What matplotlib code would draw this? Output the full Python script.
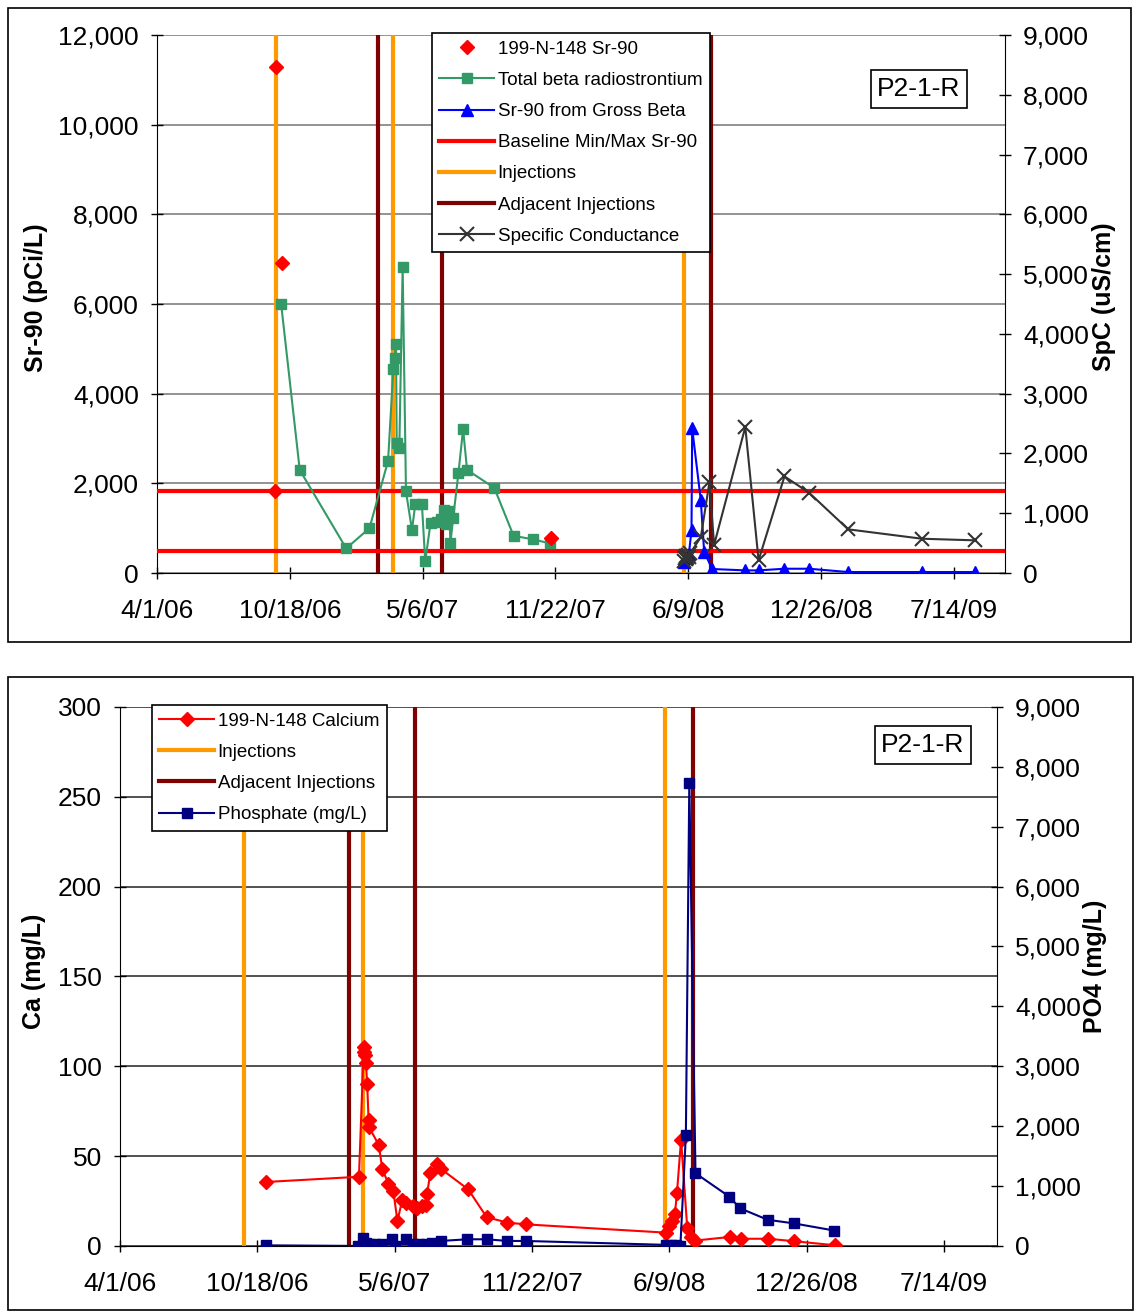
import matplotlib
matplotlib.use('Agg')
import matplotlib.pyplot as plt
from matplotlib.lines import Line2D
from matplotlib.patches import Rectangle
from matplotlib.ticker import FuncFormatter, MultipleLocator
import pandas as pd

plt.rcParams['font.family'] = ['Liberation Sans', 'DejaVu Sans']

# ---- data ----
injections_top = ['2006-09-28', '2007-03-22', '2008-06-03']
adjacent_top = ['2007-02-28', '2007-06-04', '2008-07-14']
injections_bot = ['2006-09-28', '2007-03-21', '2008-06-03']
adjacent_bot = ['2007-03-01', '2007-06-04', '2008-07-14']
baseline_sr90 = [490, 1830]

sr90_dates = ['2006-09-26', '2006-09-28', '2006-10-07', '2007-11-15']
sr90_vals = [1830, 11280, 6910, 790]

beta_dates = ['2006-10-05', '2006-11-02', '2007-01-11', '2007-02-15', '2007-03-15',
              '2007-03-23', '2007-03-25', '2007-03-27', '2007-03-28', '2007-04-01',
              '2007-04-06', '2007-04-11', '2007-04-20', '2007-04-25', '2007-05-05',
              '2007-05-10', '2007-05-18', '2007-05-27', '2007-06-03', '2007-06-07',
              '2007-06-11', '2007-06-15', '2007-06-17', '2007-06-21', '2007-06-29',
              '2007-07-06', '2007-07-12', '2007-08-22', '2007-09-20', '2007-10-20',
              '2007-11-14']
beta_vals = [6000, 2300, 550, 1000, 2500,
             4550, 4800, 5100, 2900, 2800,
             6830, 1820, 960, 1530, 1530,
             260, 1120, 1130, 1200, 1400,
             1100, 1380, 680, 1220, 2230,
             3210, 2300, 1900, 830, 750,
             660]

gross_dates = ['2008-06-03', '2008-06-07', '2008-06-10', '2008-06-14', '2008-06-15',
               '2008-06-28', '2008-07-03', '2008-07-15', '2008-09-03', '2008-09-23',
               '2008-11-01', '2008-12-08', '2009-02-05', '2009-05-27', '2009-08-15']
gross_vals = [250, 330, 420, 950, 3230,
              1620, 480, 90, 59, 59,
              96, 96, 22, 22, 22]

spc_dates = ['2008-06-03', '2008-06-04', '2008-06-05', '2008-06-06', '2008-06-08',
             '2008-06-10', '2008-06-12', '2008-06-28', '2008-07-11', '2008-07-18',
             '2008-09-03', '2008-09-23', '2008-11-01', '2008-12-08', '2009-02-05',
             '2009-05-27', '2009-08-15']
spc_vals = [200, 250, 280, 230, 300,
            270, 330, 600, 1520, 470,
            2443, 212, 1617, 1344, 731,
            574, 547]

ca_dates = ['2006-10-31', '2007-03-15', '2007-03-22', '2007-03-23', '2007-03-24',
            '2007-03-25', '2007-03-27', '2007-03-29', '2007-03-30', '2007-04-13',
            '2007-04-18', '2007-04-27', '2007-05-04', '2007-05-10', '2007-05-17',
            '2007-05-23', '2007-06-01', '2007-06-08', '2007-06-15', '2007-06-20',
            '2007-06-22', '2007-06-27', '2007-07-07', '2007-07-12', '2007-08-21',
            '2007-09-17', '2007-10-17', '2007-11-13', '2008-06-04', '2008-06-09',
            '2008-06-13', '2008-06-17', '2008-06-20', '2008-06-26', '2008-07-05',
            '2008-07-11', '2008-07-17', '2008-09-05', '2008-09-21', '2008-10-31',
            '2008-12-08', '2009-02-05']
ca_vals = [35.6, 38.5, 111, 108, 106,
           102, 90, 70, 66, 56,
           42.6, 34.6, 30.6, 13.9, 25.6,
           24, 22, 21, 22, 23,
           28.7, 40.7, 45.7, 43, 31.5,
           16, 13, 12, 7.4, 11,
           14, 18, 29.3, 59.2, 10,
           5, 3, 5, 4, 4,
           2.6, 0.4]

po4_dates = ['2006-10-31', '2007-03-14', '2007-03-21', '2007-03-25', '2007-03-30',
             '2007-04-08', '2007-04-18', '2007-05-02', '2007-05-07', '2007-05-22',
             '2007-06-01', '2007-06-10', '2007-06-20', '2007-06-30', '2007-07-12',
             '2007-08-20', '2007-09-17', '2007-10-17', '2007-11-13', '2008-06-04',
             '2008-06-11', '2008-06-18', '2008-06-25', '2008-07-03', '2008-07-08',
             '2008-07-17', '2008-09-04', '2008-09-20', '2008-10-30', '2008-12-07',
             '2009-02-04']
po4_vals = [10, 0, 140, 55, 40,
            28, 28, 111, 5, 111,
            28, 28, 39, 55, 83,
            111, 111, 83, 83, 18,
            18, 18, 0, 1854, 7733,
            1214, 825, 628, 437, 377,
            257]

start = pd.Timestamp('2006-04-01')
end = start + pd.Timedelta(days=1277)
xticks = pd.date_range(start, periods=7, freq='200D')
xlabels = [f"{d.month}/{d.day}/{d:%y}" for d in xticks]

ORANGE = '#ff9900'
DARKRED = '#800000'
GREEN = '#339966'
comma = FuncFormatter(lambda v, p: f"{v:,.0f}")

fig = plt.figure(figsize=(11.35, 13.14), dpi=100)
fig.patches.append(Rectangle((0.007, 0.5114), 0.9894, 0.4825, transform=fig.transFigure,
                             fill=False, edgecolor='black', lw=1.2))
fig.patches.append(Rectangle((0.007, 0.003), 0.991, 0.4817, transform=fig.transFigure,
                             fill=False, edgecolor='black', lw=1.2))


def style_axes(ax, axr, gridcolor):
    ax.set_xlim(start, end)
    ax.set_xticks(xticks)
    ax.set_xticklabels(xlabels)
    for a in (ax, axr):
        a.spines['top'].set_visible(False)
        a.tick_params(direction='inout', length=8, width=1, labelsize=19, colors='black')
    ax.spines['right'].set_visible(False)
    axr.spines['left'].set_visible(False)
    axr.spines['bottom'].set_visible(False)
    ax.tick_params(axis='y', pad=9)
    ax.tick_params(axis='x', pad=15)
    axr.tick_params(axis='y', pad=9)
    ax.yaxis.set_major_formatter(comma)
    axr.yaxis.set_major_formatter(comma)
    ax.grid(axis='y', color=gridcolor, lw=1.2)
    ax.set_axisbelow(True)


def make_legend(ax, handles, labels, anchor):
    lg = ax.legend(handles, labels, loc='upper left', bbox_to_anchor=anchor,
                   borderaxespad=0, fontsize=13.5, handlelength=2.9, handletextpad=0.2,
                   labelspacing=0.75, borderpad=0.4, fancybox=False, framealpha=1,
                   edgecolor='black')
    lg.get_frame().set_linewidth(1.2)
    lg.set_zorder(10)
    return lg


# ---- top chart ----
ax1 = fig.add_axes([0.1383, 0.5639, 0.7471, 0.4094])
ax1r = ax1.twinx()
ax1.set_ylim(0, 12000)
ax1.yaxis.set_major_locator(MultipleLocator(2000))
ax1r.set_ylim(0, 9000)
ax1r.yaxis.set_major_locator(MultipleLocator(1000))
style_axes(ax1, ax1r, '#808080')

for d in injections_top:
    ax1.axvline(pd.Timestamp(d), color=ORANGE, lw=3, zorder=2)
for d in adjacent_top:
    ax1.axvline(pd.Timestamp(d), color=DARKRED, lw=3, zorder=2)
for v in baseline_sr90:
    ax1.axhline(v, color='red', lw=3, zorder=3)

ax1.plot(pd.to_datetime(beta_dates), beta_vals, color=GREEN, lw=1.5, marker='s',
         markersize=7, zorder=4)
ax1.plot(pd.to_datetime(gross_dates), gross_vals, color='blue', lw=1.5, marker='^',
         markersize=9, zorder=4)
ax1.plot(pd.to_datetime(sr90_dates), sr90_vals, color='red', ls='none', marker='D',
         markersize=7, zorder=5)
ax1r.plot(pd.to_datetime(spc_dates), spc_vals, color='#333333', lw=1.5, marker='x',
          markersize=10, markeredgewidth=1.5)

ax1.set_ylabel('Sr-90 (pCi/L)', fontsize=18, fontweight='bold')
ax1.yaxis.set_label_coords(-0.128, 0.511)
ax1r.set_ylabel('SpC (uS/cm)', fontsize=18, fontweight='bold')
ax1r.yaxis.set_label_coords(1.1026, 0.513)

h_top = [
    Line2D([], [], color='red', ls='none', marker='D', markersize=7),
    Line2D([], [], color=GREEN, lw=1.5, marker='s', markersize=7),
    Line2D([], [], color='blue', lw=1.5, marker='^', markersize=9),
    Line2D([], [], color='red', lw=3),
    Line2D([], [], color=ORANGE, lw=3),
    Line2D([], [], color=DARKRED, lw=3),
    Line2D([], [], color='#333333', lw=1.5, marker='x', markersize=10, markeredgewidth=1.5),
]
l_top = ['199-N-148 Sr-90', 'Total beta radiostrontium', 'Sr-90 from Gross Beta',
         'Baseline Min/Max Sr-90', 'Injections', 'Adjacent Injections', 'Specific Conductance']
make_legend(ax1r, h_top, l_top, (0.3243, 1.0037))

ax1r.text(0.8986, 0.8996, 'P2-1-R', transform=ax1r.transAxes, fontsize=19,
          ha='center', va='center',
          bbox=dict(boxstyle='square,pad=0.25', fc='white', ec='black', lw=1.2))

# ---- bottom chart ----
ax2 = fig.add_axes([0.1057, 0.0518, 0.7727, 0.4102])
ax2r = ax2.twinx()
ax2.set_ylim(0, 300)
ax2.yaxis.set_major_locator(MultipleLocator(50))
ax2r.set_ylim(0, 9000)
ax2r.yaxis.set_major_locator(MultipleLocator(1000))
style_axes(ax2, ax2r, '#333333')

for d in injections_bot:
    ax2.axvline(pd.Timestamp(d), color=ORANGE, lw=3, zorder=2)
for d in adjacent_bot:
    ax2.axvline(pd.Timestamp(d), color=DARKRED, lw=3, zorder=2)

ax2.plot(pd.to_datetime(ca_dates), ca_vals, color='red', lw=1.5, marker='D',
         markersize=7, zorder=4)
ax2r.plot(pd.to_datetime(po4_dates), po4_vals, color='#000080', lw=1.5, marker='s',
          markersize=7)

ax2.set_ylabel('Ca (mg/L)', fontsize=18, fontweight='bold')
ax2.yaxis.set_label_coords(-0.0844, 0.510)
ax2r.set_ylabel('PO4 (mg/L)', fontsize=18, fontweight='bold')
ax2r.yaxis.set_label_coords(1.098, 0.518)

h_bot = [
    Line2D([], [], color='red', lw=1.5, marker='D', markersize=7),
    Line2D([], [], color=ORANGE, lw=3),
    Line2D([], [], color=DARKRED, lw=3),
    Line2D([], [], color='#000080', lw=1.5, marker='s', markersize=7),
]
l_bot = ['199-N-148 Calcium', 'Injections', 'Adjacent Injections', 'Phosphate (mg/L)']
make_legend(ax2r, h_bot, l_bot, (0.0365, 1.0037))

ax2r.text(0.9156, 0.9295, 'P2-1-R', transform=ax2r.transAxes, fontsize=19,
          ha='center', va='center',
          bbox=dict(boxstyle='square,pad=0.25', fc='white', ec='black', lw=1.2))

fig.savefig('out.png', dpi=100)
